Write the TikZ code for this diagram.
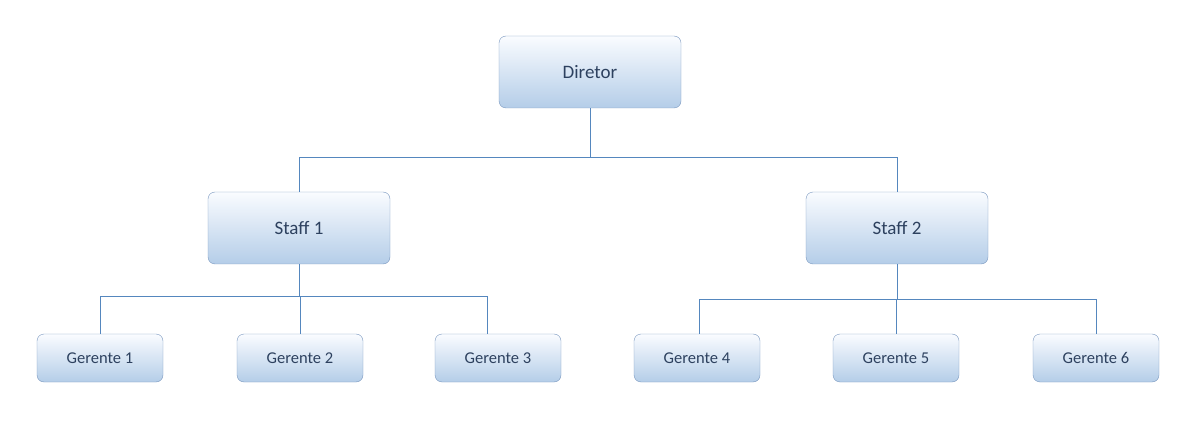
\documentclass[tikz,border=0pt]{standalone}
\usepackage{fontspec}
\setmainfont{Carlito}
\usepackage{xcolor}
\definecolor{linkblue}{RGB}{85,135,190}
\definecolor{boxtop}{RGB}{250,252,255}
\definecolor{boxbottom}{RGB}{180,205,232}
\definecolor{boxline}{RGB}{120,150,190}
\definecolor{txtblue}{RGB}{45,65,95}
\tikzset{
  unitbox/.style={draw=boxline,rounded corners=7,top color=boxtop,bottom color=boxbottom,text=txtblue,align=center},
  bigbox/.style={unitbox,minimum width=182,minimum height=72,font=\fontsize{19}{22}\selectfont},
  smallbox/.style={unitbox,minimum width=126,minimum height=48,font=\fontsize{16.5}{19}\selectfont},
  link/.style={draw=linkblue,line width=0.9}
}
\begin{document}
\begin{tikzpicture}[x=1pt,y=1pt,yscale=-1,xscale=1]
\useasboundingbox (0,0) rectangle (1200,422);

% Top level
\node [bigbox] (diretor) at (590,72) {Diretor};
% Staff level
\node [bigbox] (staff1) at (299,228) {Staff 1};
\node [bigbox] (staff2) at (897,228) {Staff 2};
% Gerentes
\node [smallbox] (g1) at (100,358) {Gerente 1};
\node [smallbox] (g2) at (300,358) {Gerente 2};
\node [smallbox] (g3) at (498,358) {Gerente 3};
\node [smallbox] (g4) at (697,358) {Gerente 4};
\node [smallbox] (g5) at (896,358) {Gerente 5};
\node [smallbox] (g6) at (1096,358) {Gerente 6};

% Junctions
\coordinate (j0) at (590,157);
\coordinate (j1) at (299,296);
\coordinate (j2) at (897,299);

% Connectors
\draw [link] (diretor) -- (j0);
\draw [link] (j0) -| (staff1);
\draw [link] (j0) -| (staff2);
\draw [link] (staff1) -- (j1);
\draw [link] (j1) -| (g1);
\draw [link] (j1) -| (g2);
\draw [link] (j1) -| ([xshift=-11]g3.north);
\draw [link] (staff2) -- (j2);
\draw [link] (j2) -| ([xshift=2]g4.north);
\draw [link] (j2) -| (g5);
\draw [link] (j2) -| (g6);

\end{tikzpicture}
\end{document}
